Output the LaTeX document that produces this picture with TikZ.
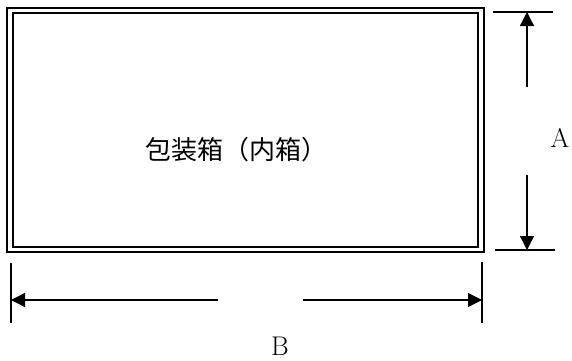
\documentclass[tikz,border=0pt]{standalone}
\usepackage{fontspec}
\newfontfamily\cjk{Noto Sans CJK JP}
\usetikzlibrary{arrows.meta}

\begin{document}
\begin{tikzpicture}[x=1pt, y=-1pt, line cap=butt,
  ext/.style={line width=1.3pt},
  dim/.style={line width=1.3pt, -{Triangle[length=14pt, width=14pt]}}]
  \useasboundingbox (0,0) rectangle (572,360);

  % double-lined box
  \node[draw, double, line width=2pt, double distance=3.5pt,
        minimum width=471pt, minimum height=239pt, inner sep=0pt] (box) at (245.5,130) {};
  \node[font=\cjk\fontsize{26}{30}\selectfont] (name) at (236,150) {包装箱（内箱）};

  % extension lines
  \coordinate (topL) at (493,12);
  \coordinate (topR) at (553,12);
  \coordinate (botL) at (495,250);
  \coordinate (botR) at (555,250);
  \coordinate (leftT) at (11,263);
  \coordinate (leftB) at (11,323);
  \coordinate (rightT) at (482,262);
  \coordinate (rightB) at (482,323);
  \draw[ext] (topL) -- (topR);
  \draw[ext] (botL) -- (botR);
  \draw[ext] (leftT) -- (leftB);
  \draw[ext] (rightT) -- (rightB);

  % dimension A
  \coordinate (a1) at (527,87);
  \coordinate (a2) at (527,175);
  \draw[dim] (a1) -- (527,12);
  \draw[dim] (a2) -- (527,250);
  \node[font=\fontsize{27}{30}\selectfont] (labelA) at (560,138) {A};

  % dimension B
  \coordinate (b1) at (218,300);
  \coordinate (b2) at (303,300);
  \draw[dim] (b1) -- (11,300);
  \draw[dim] (b2) -- (482,300);
  \node[font=\fontsize{27}{30}\selectfont] (labelB) at (280,346) {B};
\end{tikzpicture}
\end{document}
